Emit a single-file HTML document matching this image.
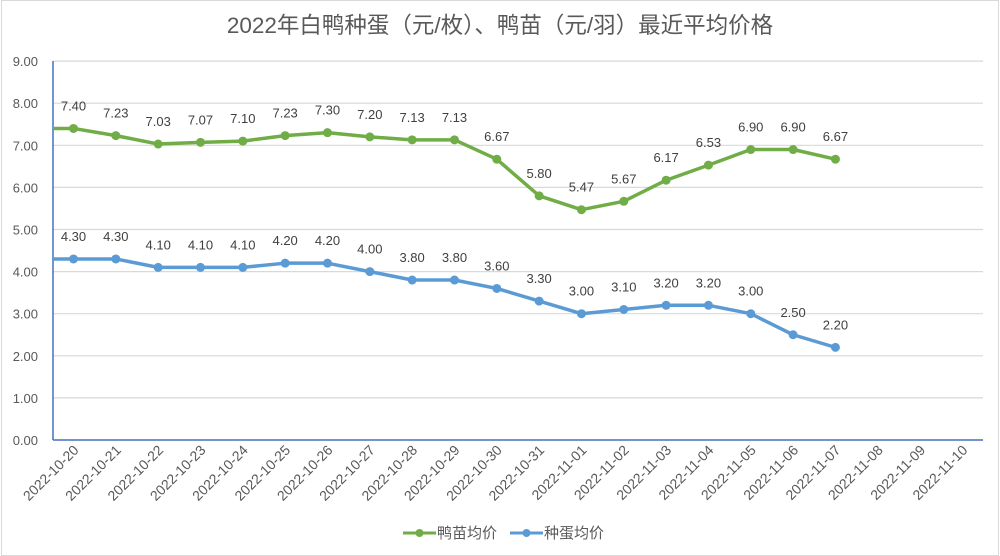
<!DOCTYPE html>
<html><head><meta charset="utf-8"><style>
html,body{margin:0;padding:0;background:#fff;}
svg{display:block;font-family:"Liberation Sans","Noto Sans CJK SC",sans-serif;}
</style></head><body>
<svg width="1000" height="556" viewBox="0 0 1000 556" xmlns="http://www.w3.org/2000/svg">
<rect x="1.5" y="0.5" width="997" height="555" fill="#fff" stroke="#d9d9d9"/>
<text x="500" y="33" text-anchor="middle" font-size="22.5" fill="#595959">2022年白鸭种蛋（元/枚）、鸭苗（元/羽）最近平均价格</text>
<g stroke="#d9d9d9" stroke-width="1.2" id="grid"></g>
<g id="ylab" font-size="13" fill="#595959" text-anchor="end"></g>
<line x1="53" y1="61" x2="53" y2="440" stroke="#4472c4" stroke-width="1.5"/>
<line x1="53" y1="440" x2="983" y2="440" stroke="#4472c4" stroke-width="1.5"/>
<g id="series"></g>
<g id="xlab" font-size="14" fill="#595959"></g>
<g font-size="15" fill="#595959">
<line x1="403" y1="533" x2="436" y2="533" stroke="#70ad47" stroke-width="3"/><circle cx="419.5" cy="533" r="4" fill="#70ad47"/>
<text x="437" y="538">鸭苗均价</text>
<line x1="510" y1="533" x2="543" y2="533" stroke="#5b9bd5" stroke-width="3"/><circle cx="526.5" cy="533" r="4" fill="#5b9bd5"/>
<text x="544" y="538">种蛋均价</text>
</g>
</svg>
<script>
var ns="http://www.w3.org/2000/svg";
function el(p,t,a,txt){var e=document.createElementNS(ns,t);for(var k in a)e.setAttribute(k,a[k]);if(txt!=null)e.textContent=txt;document.getElementById(p).appendChild(e);return e;}
function Y(v){return 440-v*42.1;}
function X(i){return 73.5+i*42.33;}
for(var v=0;v<=9;v++){ if(v>0) el("grid","line",{x1:53,x2:983,y1:Y(v),y2:Y(v)}); el("ylab","text",{x:38,y:Y(v)+5},v.toFixed(2));}
var dates=[];for(var d=20;d<=31;d++)dates.push("2022-10-"+d);for(var d=1;d<=10;d++)dates.push("2022-11-"+(d<10?"0"+d:d));
dates.forEach(function(s,i){var x=X(i)+6,y=451;el("xlab","text",{x:x,y:y,"text-anchor":"end",transform:"rotate(-45 "+x+" "+y+")"},s);});
var g=[7.40,7.23,7.03,7.07,7.10,7.23,7.30,7.20,7.13,7.13,6.67,5.80,5.47,5.67,6.17,6.53,6.90,6.90,6.67];
var b=[4.30,4.30,4.10,4.10,4.10,4.20,4.20,4.00,3.80,3.80,3.60,3.30,3.00,3.10,3.20,3.20,3.00,2.50,2.20];
function draw(d,c){var pts="53,"+Y(d[0]);d.forEach(function(v,i){pts+=" "+X(i)+","+Y(v);});
el("series","polyline",{points:pts,fill:"none",stroke:c,"stroke-width":3.5,"stroke-linejoin":"round"});
d.forEach(function(v,i){el("series","circle",{cx:X(i),cy:Y(v),r:4.5,fill:c});el("series","text",{x:X(i),y:Y(v)-18,"text-anchor":"middle","font-size":13,fill:"#404040"},v.toFixed(2));});}
draw(g,"#70ad47");draw(b,"#5b9bd5");
</script>
</body></html>
